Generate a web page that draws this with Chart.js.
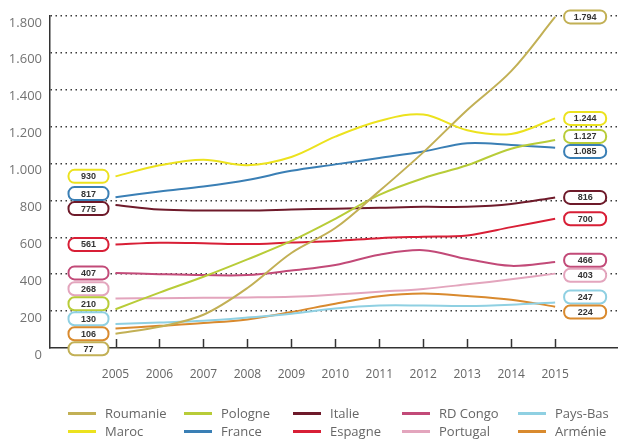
<!DOCTYPE html>
<html>
<head>
<meta charset="utf-8">
<script src="https://cdn.jsdelivr.net/npm/chart.js@4/dist/chart.umd.min.js"></script>
<style>
  html, body { margin: 0; padding: 0; background: #fff; }
  #wrap { position: relative; width: 618px; height: 441px; }
  #legend {
    position: absolute; left: 68px; top: 404px;
    display: grid; grid-template-columns: 116px 109px 109px 116px auto;
    grid-auto-flow: column; grid-template-rows: 18px 18px;
    font: 13px "Open Sans", sans-serif; color: #666;
  }
  #legend span { display: flex; align-items: center; white-space: nowrap; }
  #legend i { display: inline-block; width: 28px; height: 3px; margin-right: 9px; }
</style>
</head>
<body>
<div id="wrap">
  <canvas id="grafico" width="618" height="441"></canvas>
  <div id="legend"></div>
</div>
<script>
const years = [2005, 2006, 2007, 2008, 2009, 2010, 2011, 2012, 2013, 2014, 2015];

const roumanie = [77, 115, 180, 325, 515, 650, 850, 1060, 1290, 1500, 1794];
const maroc    = [930, 990, 1020, 990, 1035, 1145, 1230, 1265, 1180, 1160, 1244];
const pologne  = [210, 300, 386, 480, 580, 700, 830, 920, 990, 1080, 1127];
const france   = [817, 848, 875, 910, 960, 995, 1030, 1065, 1110, 1100, 1085];
const italie   = [775, 750, 745, 745, 750, 755, 760, 765, 765, 780, 816];
const espagne  = [561, 570, 568, 563, 572, 580, 595, 603, 610, 655, 700];
const rdCongo  = [407, 400, 395, 395, 420, 450, 505, 530, 482, 445, 466];
const portugal = [268, 270, 272, 274, 278, 290, 305, 320, 345, 372, 403];
const paysBas  = [130, 138, 148, 165, 185, 214, 230, 230, 228, 235, 247];
const armenie  = [106, 120, 135, 155, 195, 240, 280, 295, 282, 262, 224];

const series = [
  { label: 'Roumanie', data: roumanie, color: '#c2b055' },
  { label: 'Maroc',    data: maroc,    color: '#ece21e' },
  { label: 'Pologne',  data: pologne,  color: '#b8cc38' },
  { label: 'France',   data: france,   color: '#3a7fb5' },
  { label: 'Italie',   data: italie,   color: '#6e1a2a' },
  { label: 'Espagne',  data: espagne,  color: '#d81f36' },
  { label: 'RD Congo', data: rdCongo,  color: '#c24a78' },
  { label: 'Portugal', data: portugal, color: '#e3a5bd' },
  { label: 'Pays-Bas', data: paysBas,  color: '#8fd0e2' },
  { label: 'Arménie',  data: armenie,  color: '#d98a2e' }
];

const fmt = v => String(v).replace(/\B(?=(\d{3})+(?!\d))/g, '.');

// spread labels so boxes don't overlap: merge clusters around their mean
function spread(items, gap) {
  items.sort((a, b) => a.y - b.y);
  const groups = [];
  items.forEach(it => {
    groups.push({ items: [it], c: it.y });
    while (groups.length > 1) {
      const b = groups[groups.length - 1], a = groups[groups.length - 2];
      const aBottom = a.c + (a.items.length - 1) / 2 * gap;
      const bTop = b.c - (b.items.length - 1) / 2 * gap;
      if (aBottom + gap <= bTop) break;
      const all = a.items.concat(b.items);
      groups.splice(-2, 2, { items: all, c: all.reduce((s, i) => s + i.y, 0) / all.length });
    }
  });
  groups.forEach(g => g.items.forEach((it, k) => {
    it.pos = g.c + (k - (g.items.length - 1) / 2) * gap;
  }));
  return items;
}

const endLabels = {
  id: 'endLabels',
  afterDatasetsDraw(chart) {
    const { ctx, scales: { x, y } } = chart;
    const last = years.length - 1;
    const cols = [
      { idx: 0, cx: x.getPixelForValue(years[0]) - 27, w: 40 },
      { idx: last, cx: x.getPixelForValue(years[last]) + 30, w: 42 }
    ];
    ctx.save();
    cols.forEach(col => {
      const items = spread(series.map(s => ({
        v: s.data[col.idx], color: s.color, y: y.getPixelForValue(s.data[col.idx])
      })), 15);
      items.forEach(it => {
        ctx.beginPath();
        ctx.roundRect(col.cx - col.w / 2, it.pos - 6.5, col.w, 13, 6);
        ctx.fillStyle = '#fff';
        ctx.fill();
        ctx.lineWidth = 2;
        ctx.strokeStyle = it.color;
        ctx.stroke();
        ctx.fillStyle = '#333';
        ctx.font = 'bold 9px "Liberation Sans", sans-serif';
        ctx.textAlign = 'center';
        ctx.textBaseline = 'middle';
        ctx.fillText(fmt(it.v), col.cx, it.pos + 0.5);
      });
    });
    ctx.restore();
  }
};

// small year ticks pointing up from the x axis
const innerTicks = {
  id: 'innerTicks',
  afterDraw(chart) {
    const { ctx, chartArea, scales: { x } } = chart;
    ctx.save();
    ctx.strokeStyle = '#333';
    ctx.lineWidth = 1.5;
    years.forEach(yr => {
      const px = Math.round(x.getPixelForValue(yr)) + 0.5;
      ctx.beginPath();
      ctx.moveTo(px, chartArea.bottom);
      ctx.lineTo(px, chartArea.bottom - 9);
      ctx.stroke();
    });
    ctx.restore();
  }
};

new Chart(document.getElementById('grafico'), {
  type: 'line',
  data: {
    datasets: series.map(s => ({
      label: s.label,
      data: s.data.map((v, i) => ({ x: years[i], y: v })),
      borderColor: s.color,
      backgroundColor: s.color,
      borderWidth: 2,
      pointRadius: 0,
      tension: 0.35
    }))
  },
  options: {
    responsive: false,
    animation: false,
    layout: { padding: { top: 12, left: 0, right: 0, bottom: 0 } },
    plugins: { legend: { display: false }, tooltip: { enabled: false } },
    scales: {
      x: {
        type: 'linear',
        min: 2003.51,
        max: 2016.43,
        afterBuildTicks: scale => { scale.ticks = years.map(v => ({ value: v })); },
        afterFit: scale => { scale.height = 93; },
        grid: { display: false },
        border: { display: true, color: '#333', width: 1.5 },
        ticks: {
          padding: 11,
          color: '#666',
          font: { family: 'Open Sans', size: 12 },
          callback: v => String(v),
          maxRotation: 0,
          autoSkip: false
        }
      },
      y: {
        min: 0,
        max: 1800,
        afterFit: scale => { scale.width = 50; },
        grid: {
          drawTicks: false,
          color: c => c.tick.value === 0 ? 'rgba(0,0,0,0)' : '#3a3a3a',
          lineWidth: 1.5
        },
        border: { display: true, color: '#333', width: 1.5, dash: [1.5, 3.5] },
        ticks: {
          stepSize: 200,
          padding: 8,
          labelOffset: 7,
          color: '#737373',
          font: { family: 'Open Sans', size: 13 },
          callback: v => fmt(v)
        }
      }
    }
  },
  plugins: [endLabels, innerTicks]
});

// legend, column by column
const order = ['Roumanie', 'Maroc', 'Pologne', 'France', 'Italie', 'Espagne',
               'RD Congo', 'Portugal', 'Pays-Bas', 'Arménie'];
const legend = document.getElementById('legend');
order.forEach(name => {
  const s = series.find(d => d.label === name);
  const el = document.createElement('span');
  el.innerHTML = '<i style="background:' + s.color + '"></i>' + s.label;
  legend.appendChild(el);
});
</script>
</body>
</html>
